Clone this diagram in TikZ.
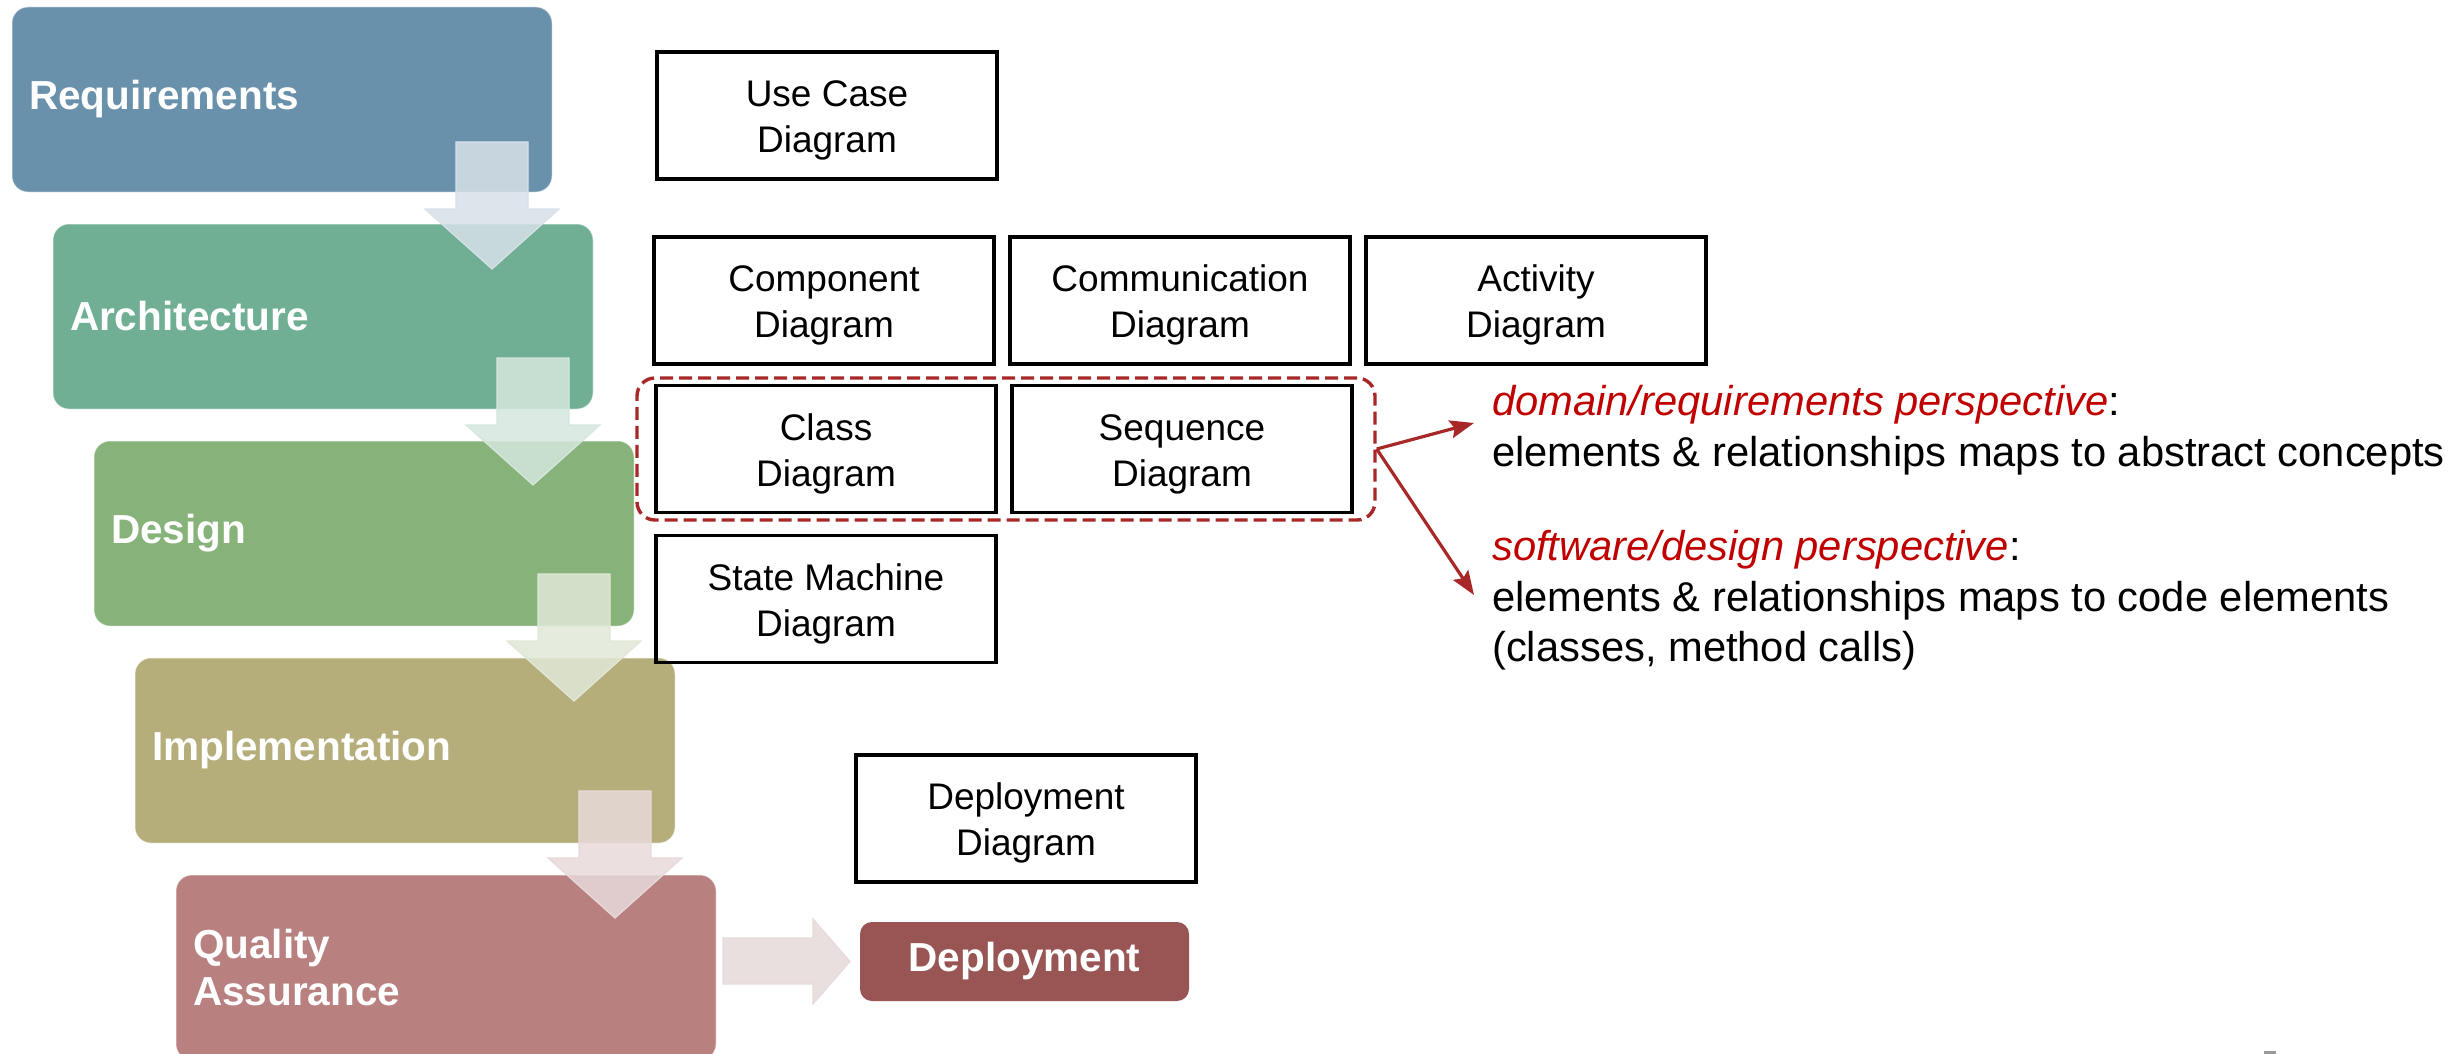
\documentclass[tikz,border=0pt]{standalone}
\usepackage{fontspec}
\setmainfont{Liberation Sans}
\usetikzlibrary{arrows.meta}

% stage colours
\definecolor{reqc}{HTML}{6A91AC}
\definecolor{archc}{HTML}{70AF93}
\definecolor{desc}{HTML}{87B37A}
\definecolor{implc}{HTML}{B5AE7B}
\definecolor{qac}{HTML}{B8807F}
\definecolor{depc}{HTML}{995553}
% flow arrow tints
\definecolor{arrA}{HTML}{D8E1E9}
\definecolor{arrB}{HTML}{D5E7DD}
\definecolor{arrC}{HTML}{E1E8D7}
\definecolor{arrD}{HTML}{E8DADA}
\definecolor{arrE}{HTML}{E7DADA}
% annotation colours
\definecolor{noteRed}{HTML}{C00000}
\definecolor{linkRed}{HTML}{A82828}

% taller first line, so the two-line labels sit a little lower in their boxes
\newcommand\firstline{\rule{0pt}{36pt}}

\begin{document}
\begin{tikzpicture}[x=1pt,y=-1pt,
  stage/.style={rounded corners=16pt, minimum height=185pt, text width=506pt,
    inner xsep=17pt, inner ysep=0pt, align=left, text=white,
    font=\fontsize{40.5}{47}\selectfont\bfseries,
    draw=white, draw opacity=0.45, line width=1pt},
  diagbox/.style={draw=black, line width=3.5pt, minimum width=340pt,
    minimum height=127pt, inner sep=0pt, align=center,
    font=\fontsize{37}{46}\selectfont},
  groupbox/.style={draw=linkRed, line width=3.4pt, dash pattern=on 13pt off 6pt,
    rounded corners=18pt, minimum width=738pt, minimum height=142pt, inner sep=0pt},
  notetext/.style={anchor=base west, inner sep=0pt, font=\fontsize{41.7}{50}\selectfont},
  linkarrow/.style={draw=linkRed, line width=3.2pt,
    -{Stealth[length=24pt, width=18pt, inset=4pt]}},
  flowarrow/.style={line width=1.2pt, fill opacity=0.85}
]
\useasboundingbox (0,0) rectangle (2458,1054);
\fill[white] (0,0) rectangle (2458,1054);

% process stages
\node[stage, fill=reqc]  (req)  at (282,99.5)  {Requirements};
\node[stage, fill=archc] (arch) at (323,316.5) {Architecture};
\node[stage, fill=desc]  (des)  at (364,533.5) {Design};
\node[stage, fill=implc] (impl) at (405,750.5) {Implementation};
\node[stage, fill=qac]   (qa)   at (446,967.5) {Quality\\Assurance};

% downward flow arrows between stages
\foreach \cx/\ty/\col in {492/142/arrA, 533/358/arrB, 574/574/arrC, 615/791/arrD}{
  \filldraw[flowarrow, fill=\col, draw=\col]
    (\cx-36,\ty) -- (\cx+36,\ty) -- (\cx+36,\ty+67) -- (\cx+67,\ty+67)
    -- (\cx,\ty+127) -- (\cx-67,\ty+67) -- (\cx-36,\ty+67) -- cycle;
}

% final deployment stage and its arrow
\node[rounded corners=12pt, fill=depc, minimum width=329pt, minimum height=79pt,
  inner sep=0pt, text=white, font=\fontsize{40.5}{47}\selectfont\bfseries]
  (deploy) at (1024.5,961.5) {Deployment};
\filldraw[flowarrow, fill=arrE, draw=arrE]
  (723,938) -- (813,938) -- (813,919) -- (850,961.5) -- (813,1004)
  -- (813,984) -- (723,984) -- cycle;

% UML diagram kinds
\node[diagbox] (usecase) at (827,115.5)  {\firstline Use Case\\Diagram};
\node[diagbox] (component) at (824,300.5) {\firstline Component\\Diagram};
\node[diagbox] (communication) at (1180,300.5) {\firstline Communication\\Diagram};
\node[diagbox] (activity) at (1536,300.5) {\firstline Activity\\Diagram};
\node[diagbox] (classd) at (826,449) {\firstline Class\\Diagram};
\node[diagbox] (sequence) at (1182,449) {\firstline Sequence\\Diagram};
\node[diagbox] (statem) at (826,599) {\firstline State Machine\\Diagram};
\node[diagbox] (deploydiag) at (1026,818.5) {\firstline Deployment\\Diagram};

% group of class and sequence diagrams
\node[groupbox] (grp) at (1006,449) {};

% perspectives
\coordinate (tipA) at (1474,423);
\coordinate (tipB) at (1474,595);
\draw[linkarrow] (grp.east) -- (tipA);
\draw[linkarrow] (grp.east) -- (tipB);

\node[notetext] (d1) at (1492,415) {{\color{noteRed}\itshape domain/requirements perspective}:};
\node[notetext] (d2) at (1492,466) {elements \& relationships maps to abstract concepts};
\node[notetext] (s1) at (1492,560) {{\color{noteRed}\itshape software/design perspective}:};
\node[notetext] (s2) at (1492,611) {elements \& relationships maps to code elements};
\node[notetext] (s3) at (1492,661) {(classes, method calls)};

% top of the page number, at the lower page edge
\fill[gray!80] (2264,1051) rectangle (2276,1054);
\end{tikzpicture}
\end{document}
